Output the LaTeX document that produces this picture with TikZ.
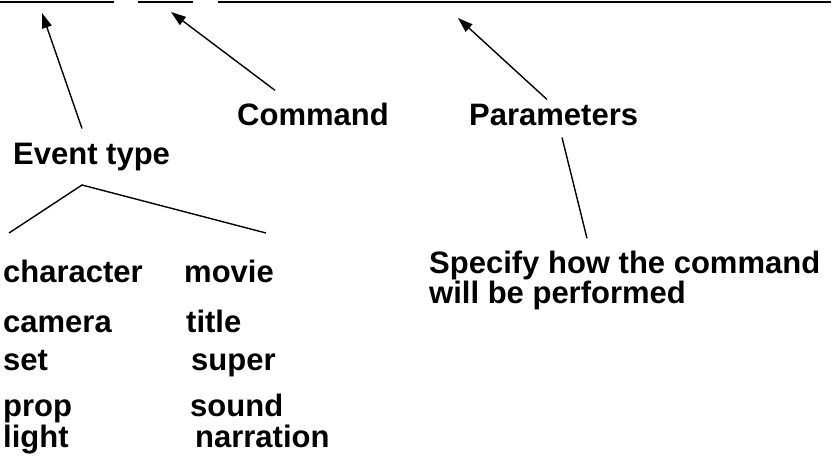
\documentclass[tikz,border=0pt]{standalone}
\usepackage{fontspec}
\setmainfont{Liberation Sans}
\usetikzlibrary{arrows.meta}
\begin{document}
\begin{tikzpicture}[x=1pt,y=-1pt,
  lab/.style={font=\fontsize{31}{36}\selectfont\bfseries, inner sep=0pt, anchor=base west},
  rule/.style={line width=2.6pt},
  arr/.style={line width=1.4pt, -{Triangle[length=15pt,width=10pt]}},
  thin/.style={line width=1.4pt}]
\useasboundingbox (0,0) rectangle (835,460);
% top rules
\coordinate (r1a) at (0,2);   \coordinate (r1b) at (114,2);
\coordinate (r2a) at (138,2); \coordinate (r2b) at (193,2);
\coordinate (r3a) at (218,2); \coordinate (r3b) at (831,2);
\draw[rule] (r1a) -- (r1b);
\draw[rule] (r2a) -- (r2b);
\draw[rule] (r3a) -- (r3b);
% arrow tips
\coordinate (tipA) at (42,13);
\coordinate (tipB) at (171,12);
\coordinate (tipC) at (458,18);
% labels
\node[lab] (evt) at (13,164) {Event type};
\node[lab] (cmd) at (237,125) {Command};
\node[lab] (par) at (469,125) {Parameters};
\node[lab] (spec1) at (429,273) {Specify how the command};
\node[lab] (spec2) at (429,303) {will be performed};
% arrows
\draw[arr] ([xshift=69pt,yshift=14pt]evt.north west) -- (tipA);
\draw[arr] ([xshift=38pt,yshift=12pt]cmd.north west) -- (tipB);
\draw[arr] ([xshift=78pt,yshift=4pt]par.north west) -- (tipC);
\draw[thin] ([xshift=93pt,yshift=-12pt]par.south west) -- ([xshift=158pt,yshift=12pt]spec1.north west);
% tree
\coordinate (apex) at (82,185);
\coordinate (tl) at (9,233);
\coordinate (tr) at (266,233);
\draw[thin] (tl) -- (apex) -- (tr);
% list
\node[lab] (c1) at (3,282) {character};
\node[lab] (c2) at (3,332) {camera};
\node[lab] (c3) at (3,370) {set};
\node[lab] (c4) at (3,416) {prop};
\node[lab] (c5) at (3,447) {light};
\node[lab] (d1) at (184,282) {movie};
\node[lab] (d2) at (186,332) {title};
\node[lab] (d3) at (191,370) {super};
\node[lab] (d4) at (190,416) {sound};
\node[lab] (d5) at (195,447) {narration};
\end{tikzpicture}
\end{document}
